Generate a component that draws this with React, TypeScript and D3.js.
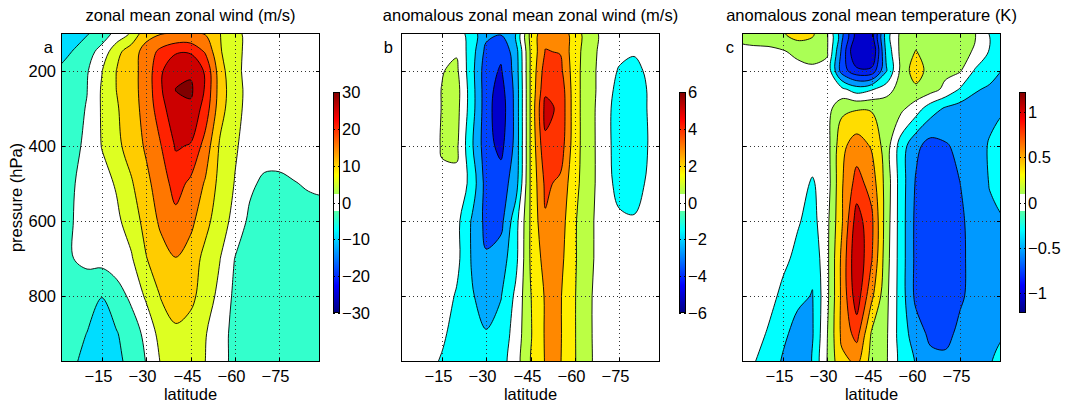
import React, { useRef, useEffect } from 'react';
import * as d3 from 'd3';

// grid of the data: latitude columns, pressure rows (hPa)
const latitudes = [0, -5, -10, -15, -20, -25, -30, -35, -40, -45, -50, -55, -60, -65, -70, -75, -80, -85, -90];
const pressures = [100, 150, 200, 250, 300, 400, 500, 600, 700, 800, 900, 1000];

const latTicks = [-15, -30, -45, -60, -75];
const pressureTicks = [200, 400, 600, 800];

// a: zonal mean zonal wind (m/s)
const windLevels = [-12.5, -7.5, -2.5, 2.5, 7.5, 12.5, 17.5, 22.5, 27.5];
const windTicks = [-30, -20, -10, 0, 10, 20, 30];
const zonalWind = [
  [-10, -10, -8, -5.2, -1.1, 3, 10.8, 12, 12.3, 12.3, 12, 7.6, 3.4, 1.5, 1, 1, 1, 1, 1],
  [-10, -7.4, -4.5, -0.7, 5.9, 10.4, 14.3, 19, 22, 22, 17, 8, 3.5, 1.5, 1, 1, 1, 1, 1],
  [-7, -5.5, -3, 2.3, 7.6, 10.9, 14.3, 21.9, 26, 26.5, 21.9, 9.5, 3.7, 1, 0.5, 0.5, 0.5, 0.5, 0.5],
  [-5.5, -4.5, -2.6, 3, 7.6, 10.9, 14.3, 22, 27.6, 28.5, 22, 10, 4.3, 1, 0.5, 0.5, 0.5, 0.5, 0.5],
  [-4.5, -3.8, -2.3, 3, 7, 10.5, 14.2, 20.5, 26.5, 26.5, 20.5, 9.5, 4, 1, 0.5, 0.5, 0.5, 0.5, 0.5],
  [-3.8, -3.2, -2.0, 2.7, 6.3, 9.7, 13.2, 17.4, 23, 22.2, 15.5, 6.8, 3.1, 0.5, 0, 0, 0, 0, 0],
  [-3.5, -2.8, -1.3, 0.7, 3, 7, 11.3, 15, 19.5, 16.5, 12, 5.8, 2.3, -1.5, -3.5, -3.6, -2.7, -2, -1.7],
  [-3.2, -2.6, -1.3, -0.2, 1.5, 4.8, 9.3, 13.5, 16, 14, 8.9, 5, 0.8, -3.5, -4, -4.2, -4.3, -4.3, -4.3],
  [-3.5, -2.6, -1.5, -0.8, 0, 2, 7.3, 10.5, 12.4, 10, 6.2, 2.6, -2.6, -4, -4.5, -4.5, -4.5, -4.5, -4.5],
  [-3.8, -4, -5, -7.4, -4.5, -1.5, 3.3, 7.8, 10.8, 8.8, 5.2, 1, -3.5, -4.5, -4.5, -4.5, -4.5, -4.5, -4.5],
  [-4, -5.5, -7.6, -9.5, -7.8, -5, -1.2, 4.5, 6.3, 5.5, 2.8, -0.5, -4, -4.5, -4.5, -4.5, -4.5, -4.5, -4.5],
  [-5.5, -7, -9.5, -10, -8.8, -6.5, -2.6, 2.3, 4.5, 4, 2.4, -1, -4, -4.5, -4.5, -4.5, -4.5, -4.5, -4.5],
];

// b: anomalous zonal mean zonal wind (m/s)
const anomWindLevels = [-4.5, -3.5, -2.5, -1.5, -0.5, 0.5, 1.5, 2.5, 3.5, 4.5, 5.5];
const anomWindTicks = [-6, -4, -2, 0, 2, 4, 6];
const anomWind = [
  [0, 0, 0, 0.1, 0.1, -1.0, -2.2, -2.4, -1.6, 1.8, 3.2, 3.2, 2.0, 0.9, 0.2, 0, 0, 0, 0],
  [0, 0, 0.1, 0.3, 0.4, -1.0, -2.8, -3.3, -2.0, 1.6, 3.55, 3.45, 1.9, 0.9, 0.1, -0.2, -0.4, -0.2, 0],
  [0, 0, 0.1, 0.45, 0.7, -1.1, -3.1, -3.6, -2.1, 1.6, 4.0, 3.8, 1.9, 0.8, 0.1, -0.6, -0.8, -0.3, 0],
  [0, 0, 0.1, 0.52, 0.9, -1.0, -3.1, -3.9, -2.2, 1.6, 4.3, 4.2, 1.9, 0.8, 0.1, -0.9, -1.1, -0.4, 0],
  [0, 0, 0.1, 0.52, 0.85, -1.0, -3.1, -4.1, -2.2, 1.6, 4.8, 4.3, 1.9, 0.8, 0, -1.1, -1.2, -0.4, 0],
  [0, 0, 0.1, 0.55, 0.7, -1.3, -3.1, -3.8, -2.2, 1.6, 4.3, 4.1, 1.9, 0.8, 0, -1.1, -1.2, -0.45, 0],
  [0, 0, 0.05, 0.4, 0.25, -0.8, -2.9, -3.0, -2.0, 1.6, 3.7, 3.3, 1.8, 0.8, 0, -0.9, -1.0, -0.3, 0],
  [0, 0, 0, 0, -0.2, -1.55, -2.8, -2.8, -0.9, 1.6, 3.4, 3.0, 1.6, 0.7, 0, -0.3, -0.4, -0.2, 0],
  [0, 0, 0, 0, -0.2, -1.55, -2.4, -2.0, -0.8, 1.6, 2.9, 2.8, 1.6, 0.7, 0, 0, 0, 0, 0],
  [0, 0, 0, 0, -0.6, -1.4, -1.9, -1.55, -0.3, 1.45, 2.6, 2.6, 1.55, 0.6, 0, 0, 0, 0, 0],
  [0, 0, 0, -0.3, -0.9, -1.3, -1.45, -1.1, -0.1, 1.4, 2.6, 2.6, 1.55, 0.6, 0, 0, 0, 0, 0],
  [0, 0, -0.3, -0.7, -1.0, -1.2, -1.2, -0.9, 0, 1.4, 2.55, 2.55, 1.55, 0.6, 0, 0, 0, 0, 0],
];

// c: anomalous zonal mean temperature (K)
const anomTempLevels = [-0.9, -0.7, -0.5, -0.3, -0.1, 0.1, 0.3, 0.5, 0.7, 0.9, 1.1];
const anomTempTicks = [-1, -0.5, 0, 0.5, 1];
const anomTemp = [
  [0.15, 0.18, 0.2, 0.28, 0.4, 0.33, 0.12, -0.45, -1.0, -1.05, -0.2, 0.15, 0.2, 0.2, 0.18, 0.15, 0.11, -0.12, -0.2],
  [0.05, 0.06, 0.06, 0.08, 0.15, 0.2, 0.12, -0.55, -1.15, -1.15, -0.25, 0.16, 0.31, 0.2, 0.15, 0.13, 0.09, -0.12, -0.2],
  [0, 0, 0, 0, 0.03, 0.05, 0.05, -0.6, -0.85, -0.85, -0.32, 0.15, 0.42, 0.2, 0.15, 0.12, -0.12, -0.22, -0.32],
  [0, 0, 0, 0, 0, 0, 0.05, -0.05, -0.2, -0.12, 0.0, 0.2, 0.25, 0.18, 0.05, -0.12, -0.28, -0.33, -0.33],
  [0, 0, 0, 0, 0, 0, 0.02, 0.25, 0.28, 0.28, 0.25, 0.15, 0.0, -0.2, -0.32, -0.38, -0.38, -0.36, -0.32],
  [0, 0, 0, 0, 0, 0, 0.02, 0.45, 0.6, 0.48, 0.2, -0.2, -0.45, -0.58, -0.52, -0.45, -0.4, -0.28, -0.2],
  [0, 0, 0, 0, -0.02, -0.12, 0.0, 0.48, 0.78, 0.62, 0.22, -0.2, -0.52, -0.62, -0.62, -0.5, -0.42, -0.29, -0.22],
  [0, 0, 0, 0, -0.08, -0.17, 0.05, 0.48, 1.0, 0.75, 0.2, -0.2, -0.55, -0.65, -0.66, -0.53, -0.43, -0.34, -0.31],
  [0, 0, 0, -0.05, -0.15, -0.25, 0.05, 0.55, 1.08, 0.72, 0.18, -0.2, -0.55, -0.66, -0.67, -0.54, -0.43, -0.35, -0.33],
  [0, 0, -0.02, -0.15, -0.25, -0.31, 0.05, 0.55, 1.02, 0.55, 0.15, -0.2, -0.55, -0.65, -0.66, -0.53, -0.43, -0.38, -0.35],
  [0, 0, -0.12, -0.25, -0.38, -0.32, 0.09, 0.55, 0.78, 0.28, 0.13, -0.2, -0.4, -0.55, -0.56, -0.45, -0.4, -0.36, -0.32],
  [0, -0.11, -0.2, -0.35, -0.42, -0.32, 0.11, 0.42, 0.45, 0.22, 0.12, -0.2, -0.31, -0.4, -0.42, -0.38, -0.35, -0.31, -0.15],
];

// fill colours, one more than the levels (first = below lowest level)
const windColors = ['#0099ff', '#00ddff', '#33ffcc', '#ffffff', '#ddff22', '#ffcc00', '#ff7700', '#ff2200', '#cc0000', '#800000'];
const anomWindColors = ['#000099', '#0000cc', '#0044ff', '#00aaff', '#00ffff', '#ffffff', '#bbff44', '#ffee00', '#ff8800', '#ff3300', '#cc0000', '#800000'];
const anomTempColors = ['#0000cc', '#0022ee', '#0044ff', '#0099ff', '#00ffff', '#ffffff', '#aaff55', '#ffdd00', '#ff8800', '#ff3300', '#cc0000', '#800000'];

const jet = d3.scaleLinear<string>()
  .domain([0, 0.125, 0.375, 0.625, 0.875, 1])
  .range(['#00007f', '#0000ff', '#00ffff', '#ffff00', '#ff0000', '#7f0000']);

const fmt = (v: number) => (v < 0 ? '\u2212' + Math.abs(v) : String(v));

const App = () => {
  const svgRef = useRef<SVGSVGElement>(null);

  useEffect(() => {
    const svg = d3.select(svgRef.current);
    svg.selectAll('*').remove();

    const font = "'Liberation Sans', Arial, Helvetica, sans-serif";
    const fs = 16.5;
    const W = 259, H = 329, top = 33;
    const cbTop = 92, cbH = 221, cbW = 7;

    const x = d3.scaleLinear().domain([-1.2, -88.8]).range([0, W]);
    const y = d3.scaleLinear().domain([100, 976]).range([0, H]);
    const latAt = d3.scaleLinear().domain(d3.range(latitudes.length)).range(latitudes);
    const presAt = d3.scaleLinear().domain(d3.range(pressures.length)).range(pressures);
    const project = (p: number[]): [number, number] => [x(latAt(p[0] - 0.5)), y(presAt(p[1] - 0.5))];
    const line = d3.line().curve(d3.curveCatmullRomClosed.alpha(0.5));
    const toPath = (mp: any) =>
      mp.coordinates.map((poly: any) => poly.map((ring: any) => line(ring.slice(0, -1).map(project))).join('')).join('');

    const panels = [
      { left: 61, title: 'zonal mean zonal wind (m/s)', letter: 'a', grid: zonalWind, levels: windLevels, colors: windColors, range: 30, cbTicks: windTicks, cbLeft: 333, yLabels: true },
      { left: 401, title: 'anomalous zonal mean zonal wind (m/s)', letter: 'b', grid: anomWind, levels: anomWindLevels, colors: anomWindColors, range: 6, cbTicks: anomWindTicks, cbLeft: 679, yLabels: false },
      { left: 742, title: 'anomalous zonal mean temperature (K)', letter: 'c', grid: anomTemp, levels: anomTempLevels, colors: anomTempColors, range: 1.22, cbTicks: anomTempTicks, cbLeft: 1019, yLabels: false },
    ];

    const defs = svg.append('defs');

    panels.forEach((p, i) => {
      const g = svg.append('g').attr('transform', `translate(${p.left},${top})`);
      const clipId = 'clip' + i;
      defs.append('clipPath').attr('id', clipId).append('rect').attr('width', W).attr('height', H);
      const body = g.append('g').attr('clip-path', `url(#${clipId})`);

      body.append('rect').attr('width', W).attr('height', H).attr('fill', p.colors[0]);
      const contours = d3.contours()
        .size([latitudes.length, pressures.length])
        .thresholds(p.levels)(p.grid.flat());
      contours.forEach((c, k) => {
        body.append('path').attr('d', toPath(c)).attr('fill', p.colors[k + 1]).attr('fill-rule', 'evenodd');
      });
      contours.forEach((c) => {
        body.append('path').attr('d', toPath(c)).attr('fill', 'none').attr('stroke', '#000').attr('stroke-width', 0.9);
      });

      // dotted grid, ticks and labels
      latTicks.forEach((t) => {
        const xx = Math.round(x(t)) + 0.5;
        g.append('line').attr('x1', xx).attr('x2', xx).attr('y1', 0).attr('y2', H)
          .attr('stroke', '#333').attr('stroke-dasharray', '1,3');
        g.append('line').attr('x1', xx).attr('x2', xx).attr('y1', H).attr('y2', H - 4).attr('stroke', '#000');
        g.append('line').attr('x1', xx).attr('x2', xx).attr('y1', 0).attr('y2', 4).attr('stroke', '#000');
        g.append('text').attr('x', xx - 4).attr('y', 349).attr('text-anchor', 'middle')
          .attr('font-family', font).attr('font-size', fs).text(fmt(t));
      });
      pressureTicks.forEach((t) => {
        const yy = Math.round(y(t)) + 0.5;
        g.append('line').attr('x1', 0).attr('x2', W).attr('y1', yy).attr('y2', yy)
          .attr('stroke', '#333').attr('stroke-dasharray', '1,3');
        g.append('line').attr('x1', 0).attr('x2', 4).attr('y1', yy).attr('y2', yy).attr('stroke', '#000');
        g.append('line').attr('x1', W - 4).attr('x2', W).attr('y1', yy).attr('y2', yy).attr('stroke', '#000');
        if (p.yLabels) {
          g.append('text').attr('x', -5).attr('y', yy).attr('dy', '0.36em').attr('text-anchor', 'end')
            .attr('font-family', font).attr('font-size', fs).text(t);
        }
      });

      g.append('rect').attr('x', 0.5).attr('y', 0.5).attr('width', W - 1).attr('height', H - 1)
        .attr('fill', 'none').attr('stroke', '#000');

      g.append('text').attr('x', W / 2).attr('y', -12).attr('text-anchor', 'middle')
        .attr('font-family', font).attr('font-size', fs).text(p.title);
      g.append('text').attr('x', -8).attr('y', 20).attr('text-anchor', 'end')
        .attr('font-family', font).attr('font-size', fs).text(p.letter);
      g.append('text').attr('x', W / 2).attr('y', 367).attr('text-anchor', 'middle')
        .attr('font-family', font).attr('font-size', fs).text('latitude');
      if (p.yLabels) {
        g.append('text').attr('transform', `translate(-45,${H / 2}) rotate(-90)`).attr('text-anchor', 'middle')
          .attr('dy', '0.36em').attr('font-family', font).attr('font-size', fs).text('pressure (hPa)');
      }

      // colorbar: jet with a white band around zero
      const R = p.range;
      const wBand = 0.077 * R;
      const grad = defs.append('linearGradient').attr('id', 'cb' + i)
        .attr('x1', 0).attr('y1', 1).attr('x2', 0).attr('y2', 0);
      const stops: [number, string][] = [];
      const N = 64;
      for (let k = 0; k <= N; k++) {
        const v = -R + (2 * R * k) / N;
        if (Math.abs(v) >= wBand) stops.push([(v + R) / (2 * R), jet((v + R) / (2 * R))]);
        if (k < N) {
          const v2 = -R + (2 * R * (k + 1)) / N;
          if (v < -wBand && v2 >= -wBand) {
            const o = (R - wBand) / (2 * R);
            stops.push([o, jet(o)], [o, '#ffffff']);
          }
          if (v < wBand && v2 >= wBand) {
            const o = (R + wBand) / (2 * R);
            stops.push([o, '#ffffff'], [o, jet(o)]);
          }
        }
      }
      stops.sort((a, b) => a[0] - b[0]);
      stops.forEach(([o, c]) => grad.append('stop').attr('offset', o).attr('stop-color', c));

      const cbScale = d3.scaleLinear().domain([-R, R]).range([cbTop + cbH, cbTop]);
      const cb = svg.append('g');
      cb.append('rect').attr('x', p.cbLeft).attr('y', cbTop).attr('width', cbW).attr('height', cbH)
        .attr('fill', `url(#cb${i})`);
      p.cbTicks.forEach((t) => {
        const yy = Math.round(cbScale(t)) + 0.5;
        cb.append('line').attr('x1', p.cbLeft).attr('x2', p.cbLeft + 2).attr('y1', yy).attr('y2', yy).attr('stroke', '#000');
        cb.append('line').attr('x1', p.cbLeft + cbW - 2).attr('x2', p.cbLeft + cbW).attr('y1', yy).attr('y2', yy).attr('stroke', '#000');
        cb.append('text').attr('x', p.cbLeft + cbW + 2).attr('y', yy).attr('dy', '0.36em')
          .attr('font-family', font).attr('font-size', fs).text(fmt(t));
      });
      cb.append('rect').attr('x', p.cbLeft + 0.5).attr('y', cbTop + 0.5).attr('width', cbW - 1).attr('height', cbH - 1)
        .attr('fill', 'none').attr('stroke', '#000');
    });
  }, []);

  return (
    <svg ref={svgRef} width={1072} height={407}
      style={{ position: 'absolute', left: 0, top: 0, display: 'block', background: '#fff' }} />
  );
};

export default App;
